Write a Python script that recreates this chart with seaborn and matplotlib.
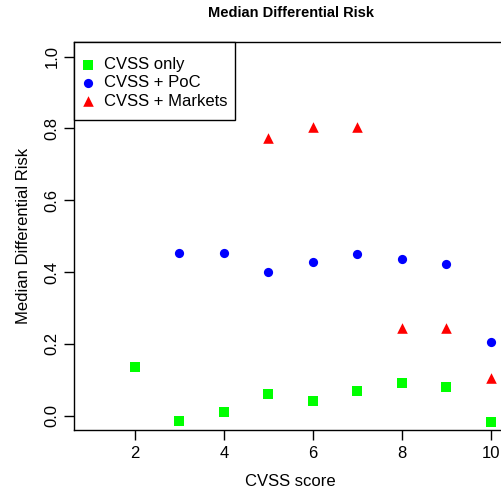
import numpy as np
import pandas as pd
import matplotlib
matplotlib.use("Agg")
import matplotlib.pyplot as plt
from matplotlib.patches import Rectangle
import seaborn as sns

scores = [2, 3, 4, 5, 6, 7, 8, 9, 10]
cvss_only = [0.136, -0.014, 0.011, 0.060, 0.042, 0.070, 0.092, 0.081, -0.018]
poc_scores = [3, 4, 5, 6, 7, 8, 9, 10]
cvss_poc = [0.454, 0.454, 0.401, 0.427, 0.451, 0.437, 0.422, 0.205]
mkt_scores = [5, 6, 7, 8, 9, 10]
cvss_markets = [0.774, 0.803, 0.803, 0.243, 0.243, 0.104]
series_names = ["CVSS only", "CVSS + PoC", "CVSS + Markets"]
colors = ["#00FF00", "#0000FF", "#FF0000"]
markers = ["s", "o", "^"]
x_ticks = [2, 4, 6, 8, 10]
y_ticks = [0.0, 0.2, 0.4, 0.6, 0.8, 1.0]

df = pd.concat([
    pd.DataFrame({"score": scores, "risk": cvss_only, "series": series_names[0]}),
    pd.DataFrame({"score": poc_scores, "risk": cvss_poc, "series": series_names[1]}),
    pd.DataFrame({"score": mkt_scores, "risk": cvss_markets, "series": series_names[2]}),
])

sns.set_style("ticks")
plt.rcParams["font.family"] = ["Liberation Sans", "DejaVu Sans"]
for k in ["text.color", "axes.labelcolor", "xtick.color", "ytick.color"]:
    plt.rcParams[k] = "black"

fig = plt.figure(figsize=(5.01, 4.94), dpi=100)
W, H = 501, 494
left, right, top, bottom = 74.3, 507.0, 42.3, 430.1
ax = fig.add_axes([left / W, 1 - bottom / H, (right - left) / W, (bottom - top) / H])

sizes = {"CVSS only": 52, "CVSS + PoC": 44, "CVSS + Markets": 58}
for name, col, mk in zip(series_names, colors, markers):
    sub = df[df["series"] == name]
    sns.scatterplot(data=sub, x="score", y="risk", color=col, marker=mk,
                    s=sizes[name], linewidth=0, ax=ax, label=name)

ax.set_xlim(0.64, 10.36)
ax.set_ylim(-0.04, 1.04)
ax.set_xticks(x_ticks)
ax.set_xticklabels([str(v) for v in x_ticks], fontsize=12)
ax.set_yticks(y_ticks)
ax.set_yticklabels([f"{v:.1f}" for v in y_ticks], fontsize=12, rotation=90, va="center")
ax.tick_params(axis="x", direction="out", length=7, width=1, color="black", pad=4.5)
ax.tick_params(axis="y", direction="out", length=7, width=1, color="black", pad=3.8)
for sp in ax.spines.values():
    sp.set_visible(True)
    sp.set_color("black")
    sp.set_linewidth(1)
ax.set_xlabel("CVSS score", fontsize=12, labelpad=9)
ax.set_ylabel("Median Differential Risk", fontsize=12, labelpad=9.8)
fig.text(291 / W, 1 - 13 / H, "Median Differential Risk", fontsize=10.5,
         fontweight="bold", ha="center", va="center")

# legend box (R style)
box = Rectangle((74.3 / W, 1 - 120 / H), (235 - 74.3) / W, (120 - 42.3) / H,
                transform=fig.transFigure, facecolor="white",
                edgecolor="black", linewidth=1, zorder=6, clip_on=False)
ax.add_patch(box)
leg = ax.legend(loc="upper left", bbox_to_anchor=(80 / W, 1 - 57 / H),
                bbox_transform=fig.transFigure, borderaxespad=0, borderpad=0,
                frameon=False, fontsize=12, handlelength=1.0,
                handletextpad=0.44, labelspacing=0.2, markerscale=1.0)
leg.set_zorder(7)

fig.savefig("out.png", dpi=100)
